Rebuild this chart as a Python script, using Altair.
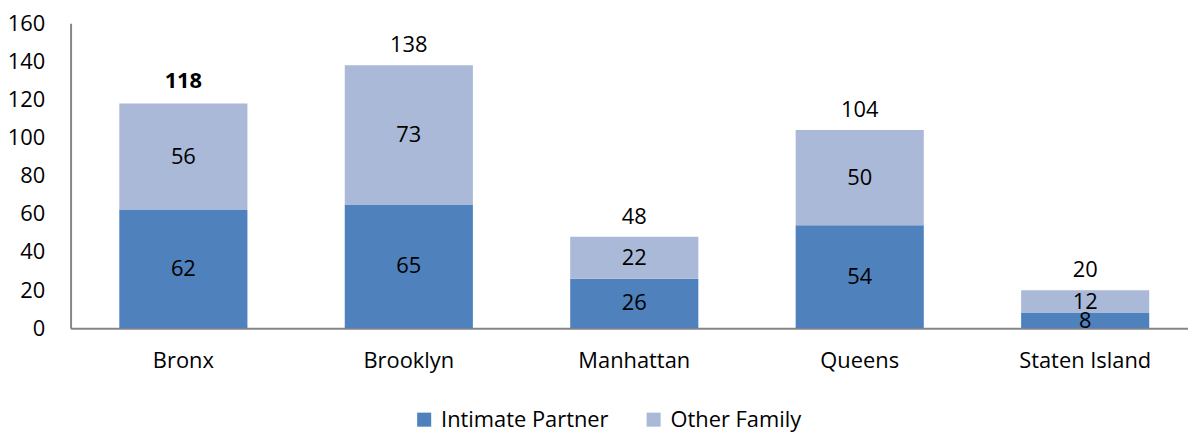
import altair as alt
import pandas as pd

boroughs = ["Bronx", "Brooklyn", "Manhattan", "Queens", "Staten Island"]
intimate = [62, 65, 26, 54, 8]
other = [56, 73, 22, 50, 12]
totals = [118, 138, 48, 104, 20]
series = ["Intimate Partner", "Other Family"]
colors = ["#4F81BD", "#AAB9D7"]

rows = []
for b, i, o in zip(boroughs, intimate, other):
    rows.append({"borough": b, "series": series[0], "value": i})
    rows.append({"borough": b, "series": series[1], "value": o})
df = pd.DataFrame(rows)
tot = pd.DataFrame({"borough": boroughs, "total": totals})

FONT = "Open Sans"
FS = 22

xscale = alt.Scale(paddingInner=0.4317, paddingOuter=0.194, align=0.557)
xaxis = alt.Axis(labelAngle=0, ticks=False, labelPadding=23, labelFontSize=FS,
                 labelFont=FONT, labelColor="#000000", domainColor="#868686",
                 domainWidth=2, labelOverlap=False, title=None)
yscale = alt.Scale(domain=[0, 160], nice=False)
yaxis = alt.Axis(values=[0, 20, 40, 60, 80, 100, 120, 140, 160], ticks=False,
                 grid=False, labelPadding=26, labelFontSize=FS, labelFont=FONT,
                 labelOverlap=False, labelFlush=False, title=None,
                 labelColor="#000000", domainColor="#868686", domainWidth=2)

xt = alt.X("borough:N", sort=boroughs, scale=xscale, axis=xaxis)

bars = alt.Chart(df).mark_bar().encode(
    x=xt,
    y=alt.Y("value:Q", stack="zero", scale=yscale, axis=yaxis),
    color=alt.Color("series:N", scale=alt.Scale(domain=series, range=colors),
                    legend=alt.Legend(title=None, orient="none", direction="horizontal",
                                      legendX=345, legendY=388, symbolType="square",
                                      symbolSize=200, symbolStrokeWidth=0,
                                      labelFontSize=FS, labelFont=FONT, labelLimit=400,
                                      labelColor="#000000", columnPadding=34,
                                      labelOffset=6)),
    order=alt.Order("series:N"),
)

seg_text = alt.Chart(df).transform_stack(
    stack="value", groupby=["borough"], as_=["y0", "y1"],
    sort=[alt.SortField("series", order="ascending")]
).transform_calculate(mid="(datum.y0 + datum.y1) / 2").mark_text(
    fontSize=FS, font=FONT, color="#000000", baseline="middle"
).encode(
    x=xt,
    y=alt.Y("mid:Q", scale=yscale, axis=yaxis),
    text="value:Q",
)

tot_bold = alt.Chart(tot).transform_filter(alt.datum.borough == "Bronx").mark_text(
    fontSize=FS, font=FONT, fontWeight="bold", color="#000000", baseline="middle", dy=-22
).encode(x=xt, y=alt.Y("total:Q", scale=yscale, axis=yaxis), text="total:Q")

tot_norm = alt.Chart(tot).transform_filter(alt.datum.borough != "Bronx").mark_text(
    fontSize=FS, font=FONT, color="#000000", baseline="middle", dy=-20
).encode(x=xt, y=alt.Y("total:Q", scale=yscale, axis=yaxis), text="total:Q")

chart = alt.layer(bars, seg_text, tot_bold, tot_norm).properties(
    width=1125, height=307,
    background="#ffffff",
    autosize=alt.AutoSizeParams(type="none"),
    padding={"left": 63, "top": 14, "right": 0, "bottom": 104},
).configure_view(strokeWidth=0, stroke="transparent")

chart.save("out.html", embed_options={"renderer": "svg", "actions": False})
